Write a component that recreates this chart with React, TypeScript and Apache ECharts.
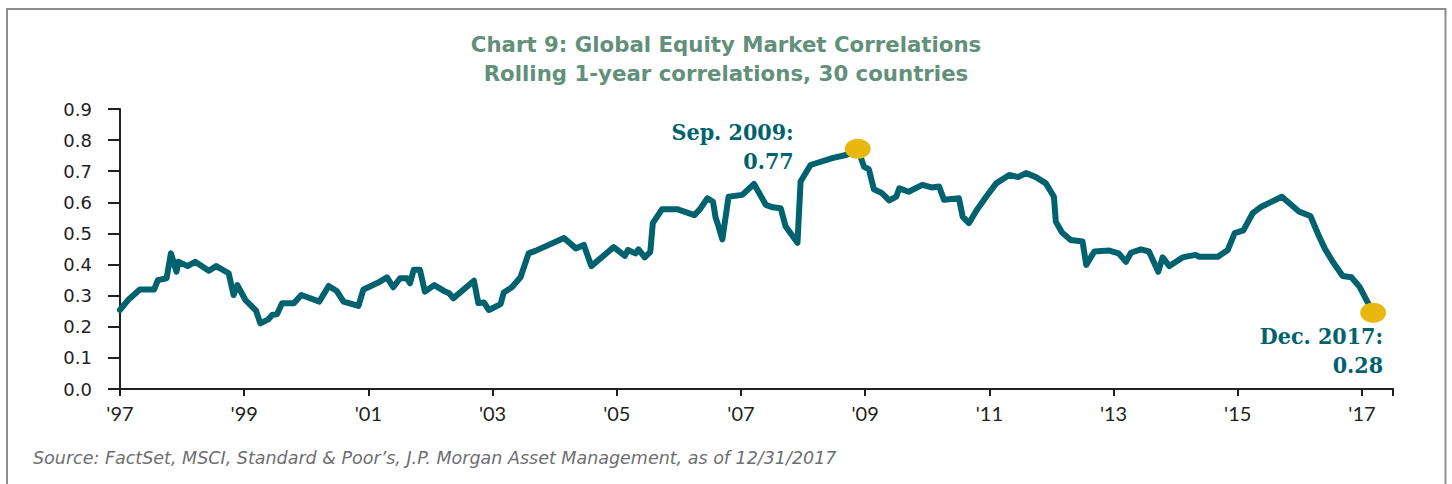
import React, { useEffect, useRef } from "react";
import * as echarts from "echarts";

const titleLines = ["Chart 9: Global Equity Market Correlations", "Rolling 1-year correlations, 30 countries"];
const sourceText = "Source: FactSet, MSCI, Standard & Poor\u2019s, J.P. Morgan Asset Management, as of 12/31/2017";

const years = [
  1997.0, 1997.13, 1997.32, 1997.55, 1997.61, 1997.75, 1997.82, 1997.91, 1997.94, 1998.09,
  1998.21, 1998.43, 1998.55, 1998.75, 1998.83, 1998.89, 1999.02, 1999.19, 1999.26, 1999.39,
  1999.45, 1999.53, 1999.61, 1999.8, 1999.92, 2000.21, 2000.36, 2000.49, 2000.6, 2000.84,
  2000.92, 2001.16, 2001.3, 2001.4, 2001.51, 2001.62, 2001.67, 2001.73, 2001.83, 2001.91,
  2002.06, 2002.21, 2002.3, 2002.37, 2002.7, 2002.77, 2002.86, 2002.94, 2003.13, 2003.18,
  2003.31, 2003.45, 2003.58, 2003.69, 2004.15, 2004.34, 2004.47, 2004.59, 2004.95, 2005.13,
  2005.18, 2005.3, 2005.35, 2005.45, 2005.54, 2005.58, 2005.73, 2005.97, 2006.25, 2006.34,
  2006.46, 2006.55, 2006.59, 2006.64, 2006.7, 2006.8, 2007.02, 2007.21, 2007.4, 2007.51,
  2007.64, 2007.72, 2007.91, 2007.96, 2008.12, 2008.47, 2008.69, 2008.88, 2008.98, 2009.06,
  2009.14, 2009.26, 2009.39, 2009.5, 2009.55, 2009.7, 2009.92, 2010.07, 2010.19, 2010.27,
  2010.51, 2010.57, 2010.67, 2010.8, 2010.96, 2011.11, 2011.32, 2011.46, 2011.59, 2011.75,
  2011.91, 2012.04, 2012.07, 2012.17, 2012.31, 2012.5, 2012.56, 2012.69, 2012.93, 2013.08,
  2013.2, 2013.28, 2013.44, 2013.57, 2013.72, 2013.79, 2013.9, 2014.11, 2014.32, 2014.38,
  2014.68, 2014.84, 2014.95, 2015.09, 2015.24, 2015.38, 2015.71, 2015.99, 2016.17, 2016.3,
  2016.4, 2016.53, 2016.69, 2016.83, 2016.96, 2017.18,
];

const correlations = [
  0.254, 0.286, 0.32, 0.32, 0.35, 0.356, 0.436, 0.377, 0.409, 0.395,
  0.409, 0.38, 0.395, 0.372, 0.302, 0.334, 0.286, 0.252, 0.211, 0.224,
  0.238, 0.241, 0.276, 0.276, 0.302, 0.281, 0.331, 0.315, 0.281, 0.267,
  0.32, 0.342, 0.359, 0.327, 0.356, 0.356, 0.34, 0.383, 0.383, 0.313,
  0.334, 0.316, 0.308, 0.292, 0.348, 0.276, 0.278, 0.254, 0.273, 0.31,
  0.327, 0.359, 0.436, 0.444, 0.485, 0.452, 0.463, 0.395, 0.456, 0.428,
  0.447, 0.436, 0.449, 0.423, 0.441, 0.533, 0.578, 0.578, 0.559, 0.578,
  0.613, 0.602, 0.552, 0.522, 0.481, 0.618, 0.624, 0.659, 0.592, 0.584,
  0.581, 0.522, 0.47, 0.667, 0.72, 0.742, 0.752, 0.772, 0.715, 0.706,
  0.642, 0.631, 0.606, 0.618, 0.645, 0.634, 0.656, 0.648, 0.651, 0.608,
  0.613, 0.554, 0.533, 0.576, 0.621, 0.661, 0.688, 0.681, 0.694, 0.681,
  0.661, 0.618, 0.538, 0.503, 0.479, 0.474, 0.399, 0.442, 0.445, 0.436,
  0.409, 0.438, 0.449, 0.442, 0.377, 0.423, 0.395, 0.423, 0.431, 0.425,
  0.425, 0.447, 0.501, 0.51, 0.565, 0.586, 0.618, 0.57, 0.556, 0.495,
  0.452, 0.409, 0.363, 0.359, 0.329, 0.245,
];

const highlightYears = [2008.88, 2017.18];
const highlightValues = [0.772, 0.245];
const highlightLabels = ["Sep. 2009:\n0.77", "Dec. 2017:\n0.28"];

const yTicks = { min: 0, max: 0.9, interval: 0.1 };
const xTicks = { min: 1997, max: 2017.5, interval: 2 };

const TEAL = "#00626e";
const GOLD = "#e8b810";
const AXIS = "#231f20";

export default function App() {
  const ref = useRef<HTMLDivElement>(null);
  useEffect(() => {
    if (!ref.current) return;
    const chart = echarts.init(ref.current, null, { renderer: "svg" });
    const annoFont = '"DejaVu Serif Condensed", "DejaVu Serif", serif';
    const titleStyle = {
      fontFamily: '"DejaVu Sans", sans-serif',
      fontSize: 21.3,
      fontWeight: "bold",
      color: "#62907a",
      lineHeight: 26,
    };
    const option: any = {
      animation: false,
      backgroundColor: "#ffffff",
      title: [
        { text: titleLines[0], left: "center", top: 31, padding: 0, textStyle: titleStyle },
        { text: titleLines[1], left: "center", top: 60, padding: 0, textStyle: titleStyle },
        {
          text: sourceText,
          left: 33,
          top: 449,
          padding: 0,
          textStyle: {
            fontFamily: '"DejaVu Sans", sans-serif',
            fontSize: 17.5,
            fontStyle: "italic",
            fontWeight: "normal",
            color: "#6d6e71",
          },
        },
      ],
      graphic: [
        {
          type: "rect",
          shape: { x: 7, y: 9, width: 1438.5, height: 520 },
          style: { fill: "none", stroke: "#8e8e8e", lineWidth: 2 },
          silent: true,
        },
      ],
      grid: { left: 120, right: 59, top: 109, bottom: 95, containLabel: false },
      xAxis: {
        type: "value",
        min: xTicks.min,
        max: xTicks.max,
        interval: xTicks.interval,
        axisLine: { show: true, lineStyle: { color: AXIS, width: 2 } },
        axisTick: { show: true, length: 7, lineStyle: { color: AXIS, width: 2 } },
        splitLine: { show: false },
        axisLabel: {
          margin: 14,
          fontFamily: "Lato, sans-serif",
          fontSize: 20,
          color: AXIS,
          formatter: (v: number) => (Math.abs(v - Math.round(v)) < 1e-6 ? "'" + String(Math.round(v)).slice(2) : ""),
        },
      },
      yAxis: {
        type: "value",
        min: yTicks.min,
        max: yTicks.max,
        interval: yTicks.interval,
        axisLine: { show: true, lineStyle: { color: AXIS, width: 2 } },
        axisTick: { show: true, length: 12, lineStyle: { color: AXIS, width: 2 } },
        splitLine: { show: false },
        axisLabel: {
          margin: 28,
          fontFamily: '"DejaVu Sans", sans-serif',
          fontSize: 18,
          color: AXIS,
          formatter: (v: number) => v.toFixed(1),
        },
      },
      series: [
        {
          type: "line",
          data: years.map((y, i) => [y, correlations[i]]),
          showSymbol: false,
          symbol: "none",
          lineStyle: { color: TEAL, width: 6, join: "round", cap: "round" },
          z: 2,
        },
        {
          type: "scatter",
          symbol: "circle",
          symbolSize: [26, 20],
          itemStyle: { color: GOLD, opacity: 1 },
          z: 3,
          data: [
            {
              value: [highlightYears[0], highlightValues[0]],
              label: {
                show: true,
                formatter: highlightLabels[0],
                position: "left",
                distance: 51,
                align: "right",
                offset: [0, -3],
                fontFamily: annoFont,
                fontSize: 23,
                fontWeight: "bold",
                lineHeight: 29,
                color: TEAL,
              },
            },
            {
              value: [highlightYears[1], highlightValues[1]],
              label: {
                show: true,
                formatter: highlightLabels[1],
                position: "bottom",
                distance: 6,
                align: "right",
                offset: [10, -8],
                fontFamily: annoFont,
                fontSize: 23,
                fontWeight: "bold",
                lineHeight: 29,
                color: TEAL,
              },
            },
          ],
        },
      ],
    };
    chart.setOption(option);
    return () => chart.dispose();
  }, []);
  return (
    <div
      ref={ref}
      style={{ position: "fixed", left: 0, top: 0, width: 1452, height: 484, background: "#fff" }}
    />
  );
}
